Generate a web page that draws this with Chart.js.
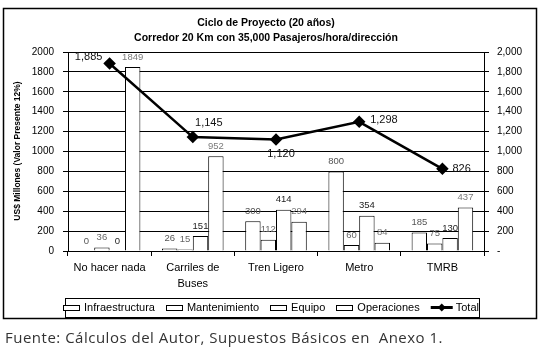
<!DOCTYPE html>
<html>
<head>
<meta charset="utf-8">
<script src="https://cdn.jsdelivr.net/npm/chart.js@4.4.0/dist/chart.umd.min.js"></script>
<style>
  html,body{margin:0;padding:0;background:#fff;}
  #wrap{width:540px;height:352px;position:relative;}
</style>
</head>
<body>
<div id="wrap"><canvas id="c" width="540" height="352"></canvas></div>
<script>
const titleLines = ['Ciclo de Proyecto (20 años)', 'Corredor 20 Km con 35,000 Pasajeros/hora/dirección'];
const yTitle = 'US$ Millones (Valor Presente 12%)';
const caption = 'Fuente: Cálculos del Autor, Supuestos Básicos en  Anexo 1.';
const categories = [['No hacer nada'], ['Carriles de', 'Buses'], ['Tren Ligero'], ['Metro'], ['TMRB']];
const infraestructura = [0, 26, 300, 800, 185];
const mantenimiento = [36, 15, 112, 60, 75];
const equipo = [0, 151, 414, 354, 130];
const operaciones = [1849, 952, 294, 84, 437];
const total = [1885, 1145, 1120, 1298, 826];
const seriesNames = ['Infraestructura', 'Mantenimiento', 'Equipo', 'Operaciones', 'Total'];
const yMin = 0, yMax = 2000, yStep = 200;

const FONT = '"Liberation Sans", Arial, sans-serif';
const labelColors = ['#555', '#666', '#222', '#7a7a7a'];
// offsets for total labels (dx, dy, align)
const totalLabelPos = [[-21, -6, 'center'], [16, -14, 'center'], [5, 14, 'center'], [11, -2, 'left'], [10, 0, 'left']];

const fmtRight = v => v === 0 ? '-' : v.toLocaleString('en-US');
const fmtLeft = v => String(v);

const decor = {
  id: 'decor',
  afterDatasetsDraw(chart) {
    const ctx = chart.ctx;
    ctx.save();
    for (let d = 0; d < 4; d++) {
      const meta = chart.getDatasetMeta(d);
      const vals = chart.data.datasets[d].data;
      ctx.font = '9.5px ' + FONT;
      ctx.fillStyle = labelColors[d];
      ctx.textAlign = 'center';
      ctx.textBaseline = 'middle';
      meta.data.forEach((el, i) => {
        ctx.fillText(String(vals[i]), el.x, el.y - 10);
      });
    }
    const lm = chart.getDatasetMeta(4);
    ctx.font = '11px ' + FONT;
    ctx.fillStyle = '#111';
    ctx.textBaseline = 'middle';
    lm.data.forEach((el, i) => {
      const p = totalLabelPos[i];
      ctx.textAlign = p[2];
      ctx.fillText(total[i].toLocaleString('en-US'), el.x + p[0], el.y + p[1]);
    });
    ctx.restore();
  },
  afterDraw(chart) {
    const ctx = chart.ctx;
    ctx.save();
    ctx.strokeStyle = '#000';
    ctx.lineWidth = 1.5;
    ctx.strokeRect(3.5, 8.5, 533, 310);
    ctx.fillStyle = '#000';
    ctx.textAlign = 'center';
    ctx.textBaseline = 'middle';
    ctx.font = 'bold 10.5px ' + FONT;
    ctx.fillText(titleLines[0], 266, 23);
    ctx.fillText(titleLines[1], 266, 38);
    ctx.save();
    ctx.translate(18, 151);
    ctx.rotate(-Math.PI / 2);
    ctx.font = 'bold 8.5px ' + FONT;
    ctx.fillText(yTitle, 0, 0);
    ctx.restore();
    // legend
    ctx.font = '11px ' + FONT;
    const sw = 16, gap1 = 5, gap2 = 11;
    const widths = seriesNames.map((n, i) => (i === 4 ? 22 : sw) + gap1 + ctx.measureText(n).width);
    const totalW = widths.reduce((a, b) => a + b, 0) + gap2 * (seriesNames.length - 1);
    const boxL = 65, boxR = 479, boxT = 298, boxB = 317;
    ctx.lineWidth = 1;
    ctx.strokeRect(boxL + 0.5, boxT + 0.5, boxR - boxL, boxB - boxT);
    let x = (boxL + boxR) / 2 - totalW / 2;
    const cy = 307.5;
    ctx.textAlign = 'left';
    seriesNames.forEach((n, i) => {
      if (i < 4) {
        ctx.fillStyle = '#fff';
        ctx.fillRect(x, cy - 2.5, sw, 5);
        ctx.strokeStyle = '#000';
        ctx.strokeRect(Math.round(x) + 0.5, Math.round(cy - 2.5) + 0.5, sw, 5);
        ctx.fillStyle = '#000';
        ctx.fillText(n, x + sw + gap1, cy);
        x += sw + gap1 + ctx.measureText(n).width + gap2;
      } else {
        ctx.fillStyle = '#000';
        ctx.fillRect(x, cy - 1.5, 22, 3);
        ctx.beginPath();
        ctx.moveTo(x + 11, cy - 4); ctx.lineTo(x + 15, cy); ctx.lineTo(x + 11, cy + 4); ctx.lineTo(x + 7, cy);
        ctx.closePath(); ctx.fill();
        ctx.fillText(n, x + 22 + 3, cy);
      }
    });
    // caption
    ctx.font = '15px "Open Sans", sans-serif';
    if ('letterSpacing' in ctx) ctx.letterSpacing = '0.5px';
    ctx.fillStyle = '#333';
    ctx.textAlign = 'left';
    ctx.fillText(caption, 5, 339);
    ctx.restore();
  }
};

const barDs = (label, data) => ({
  type: 'bar', label, data, backgroundColor: '#fff', borderColor: '#000', borderWidth: 1,
  categoryPercentage: 0.74, barPercentage: 1.0, order: 2, yAxisID: 'y'
});

new Chart(document.getElementById('c'), {
  data: {
    labels: categories,
    datasets: [
      barDs(seriesNames[0], infraestructura),
      barDs(seriesNames[1], mantenimiento),
      barDs(seriesNames[2], equipo),
      barDs(seriesNames[3], operaciones),
      { type: 'line', label: seriesNames[4], data: total, borderColor: '#000', borderWidth: 2.5,
        pointStyle: 'rectRot', pointRadius: 4.5, pointBackgroundColor: '#000', pointBorderColor: '#000',
        tension: 0, order: 1, yAxisID: 'y' }
    ]
  },
  options: {
    responsive: false, animation: false, devicePixelRatio: 1,
    layout: { padding: { top: 52, left: 0, right: 0, bottom: 0 } },
    plugins: { legend: { display: false }, tooltip: { enabled: false }, title: { display: false } },
    scales: {
      x: {
        offset: true,
        grid: { offset: true, drawOnChartArea: false, drawTicks: true, tickLength: 5, color: '#000', lineWidth: 1 },
        border: { display: true, color: '#000', width: 1 },
        ticks: { color: '#000', font: { family: FONT, size: 11, lineHeight: 1.45 }, padding: 4, maxRotation: 0, autoSkip: false },
        afterFit(s) { s.height = 101; }
      },
      y: {
        position: 'left', min: yMin, max: yMax,
        grid: { color: '#000', lineWidth: 1, drawTicks: true, tickLength: 5, tickColor: '#000' },
        border: { display: true, color: '#000', width: 1 },
        ticks: { stepSize: yStep, color: '#000', font: { family: FONT, size: 10 }, padding: 9, callback: v => fmtLeft(v) },
        afterFit(s) { s.width = 68; }
      },
      y2: {
        position: 'right', min: yMin, max: yMax,
        grid: { drawOnChartArea: false, drawTicks: true, tickLength: 5, tickColor: '#000', color: '#000' },
        border: { display: true, color: '#000', width: 1 },
        ticks: { stepSize: yStep, color: '#000', font: { family: FONT, size: 10 }, padding: 8,
                 callback: v => fmtRight(v) },
        afterFit(s) { s.width = 56; }
      }
    }
  },
  plugins: [decor]
});
</script>
</body>
</html>
